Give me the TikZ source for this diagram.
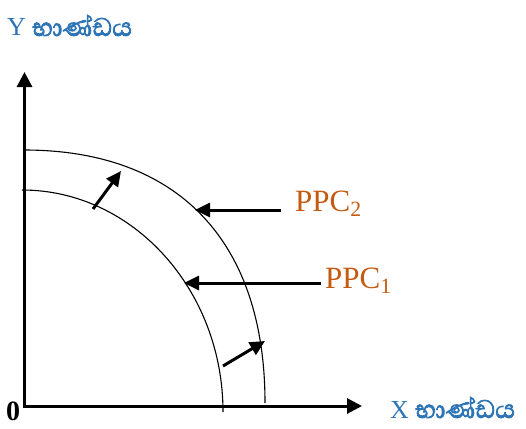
\documentclass[tikz,border=0pt]{standalone}
\usepackage{fontspec}
\setmainfont{Liberation Serif}
\newfontfamily\sinfont[Script=Sinhala,FakeBold=2.5]{Abhaya Libre}
\usetikzlibrary{arrows.meta}
\definecolor{lblblue}{RGB}{46,117,182}
\definecolor{ppcorange}{RGB}{197,90,17}
\tikzset{
  axisline/.style={line width=3pt,-{Triangle[length=15pt,width=15pt]}},
  ppcline/.style={line width=1.1pt},
  shiftarrow/.style={line width=3pt,-{Triangle[length=15pt,width=14pt]}},
  axislabel/.style={anchor=base west,inner sep=0pt,text=lblblue,font=\fontsize{26}{28}\selectfont},
  ppclabel/.style={anchor=base west,inner sep=0pt,text=ppcorange,font=\fontsize{31}{34}\selectfont}
}
\newcommand{\sinword}{{\fontsize{32.5}{35}\sinfont භාණ්ඩය}}
\begin{document}
\begin{tikzpicture}[x=1pt,y=-1pt]
\useasboundingbox (0,0) rectangle (526,428);
% axes
\coordinate (O) at (24.5,406);
\coordinate (Ytip) at (24.5,72);
\coordinate (Xtip) at (362,406);
\draw[axisline] (24.5,407.5) -- (Ytip);
\draw[axisline] (23,406) -- (Xtip);
% curves
\coordinate (i1) at (22,190);
\coordinate (i2) at (223,412);
\draw[ppcline] (i1) .. controls (133,190) and (223,290) .. (i2);
\coordinate (o1) at (24,150);
\coordinate (o2) at (265,403);
\draw[ppcline] (o1) .. controls (178,150) and (265,241) .. (o2);
% shift arrows
\coordinate (a1s) at (93,209);
\coordinate (a1e) at (121,171);
\draw[shiftarrow] (a1s) -- (a1e);
\coordinate (a2s) at (223,366);
\coordinate (a2e) at (265,341);
\draw[shiftarrow] (a2s) -- (a2e);
\coordinate (p2s) at (281,210);
\coordinate (p2e) at (195,210);
\draw[shiftarrow] (p2s) -- (p2e);
\coordinate (p1s) at (321,283);
\coordinate (p1e) at (184,283);
\draw[shiftarrow] (p1s) -- (p1e);
% labels
\node[axislabel] (ylab) at (7,36) {Y \sinword};
\node[axislabel] (xlab) at (390,418) {X \sinword};
\node[ppclabel] (ppc2) at (295,211) {PPC\textsubscript{2}};
\node[ppclabel] (ppc1) at (325,288) {PPC\textsubscript{1}};
\node[anchor=base west,inner sep=0pt,font=\fontsize{28}{30}\selectfont\bfseries] (zero) at (6,420) {0};
\end{tikzpicture}
\end{document}
